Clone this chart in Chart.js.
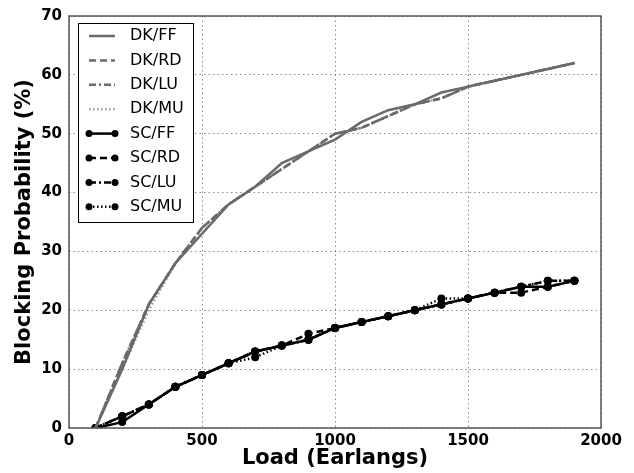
<!DOCTYPE html>
<html>
<head>
<meta charset="utf-8">
<script src="https://cdn.jsdelivr.net/npm/chart.js@4/dist/chart.umd.min.js"></script>
<style>
  html, body { margin: 0; padding: 0; background: #fff; }
  #wrap { width: 634px; height: 473px; }
</style>
</head>
<body>
<div id="wrap"><canvas id="chart" width="634" height="473"></canvas></div>
<script>
// Load points (Earlangs)
const loads = [100, 200, 300, 400, 500, 600, 700, 800, 900, 1000, 1100, 1200, 1300, 1400, 1500, 1600, 1700, 1800, 1900];

// Blocking probability (%)
const dkFF = [0, 10, 21, 28, 33, 38, 41, 45, 47, 49, 52, 54, 55, 57, 58, 59, 60, 61, 62];
const dkRD = [0, 11, 21, 28, 34, 38, 41, 44, 47, 50, 51, 53, 55, 56, 58, 59, 60, 61, 62];
const dkLU = [0, 11, 21, 28, 34, 38, 41, 44, 47, 50, 51, 53, 55, 56, 58, 59, 60, 61, 62];
const dkMU = [0, 10, 20, 28, 33, 38, 41, 44, 47, 50, 51, 53, 55, 56, 58, 59, 60, 61, 62];
const scFF = [0, 1, 4, 7, 9, 11, 13, 14, 15, 17, 18, 19, 20, 21, 22, 23, 24, 24, 25];
const scRD = [0, 2, 4, 7, 9, 11, 13, 14, 16, 17, 18, 19, 20, 21, 22, 23, 23, 24, 25];
const scLU = [0, 2, 4, 7, 9, 11, 13, 14, 15, 17, 18, 19, 20, 21, 22, 23, 24, 25, 25];
const scMU = [0, 2, 4, 7, 9, 11, 12, 14, 15, 17, 18, 19, 20, 22, 22, 23, 24, 25, 25];

const xTicks = [0, 500, 1000, 1500, 2000];
const yTicks = [0, 10, 20, 30, 40, 50, 60, 70];

const FONT = "'DejaVu Sans', sans-serif";
const GRAY = '#6a6a6a';

const pts = ys => ys.map((y, i) => ({ x: loads[i], y: y }));

function series(label, ys, color, dash, markers) {
    return {
        label: label,
        data: pts(ys),
        borderColor: color,
        backgroundColor: color,
        borderWidth: 2.5,
        borderDash: dash,
        pointRadius: markers ? 4 : 0,
        pointBorderWidth: 0,
        pointBackgroundColor: color,
        tension: 0,
        fill: false,
    };
}

// legend + frame, drawn like the matplotlib original
const framePlugin = {
    id: 'frame',
    afterDraw(chart) {
        const ctx = chart.ctx;
        const a = chart.chartArea;
        ctx.save();
        ctx.strokeStyle = '#555';
        ctx.lineWidth = 1.5;
        ctx.setLineDash([]);
        ctx.strokeRect(a.left, a.top, a.right - a.left, a.bottom - a.top);

        // legend box
        const bx = 78, by = 23, bw = 115, bh = 199;
        ctx.fillStyle = '#fff';
        ctx.fillRect(bx, by, bw, bh);
        ctx.strokeStyle = '#000';
        ctx.lineWidth = 1;
        ctx.strokeRect(bx + 0.5, by + 0.5, bw, bh);

        ctx.font = '16px ' + FONT;
        ctx.textBaseline = 'middle';
        chart.data.datasets.forEach((ds, i) => {
            const y = 36 + i * 24.4;
            const x0 = 89, x1 = 115;
            ctx.strokeStyle = ds.borderColor;
            ctx.lineWidth = ds.borderWidth;
            ctx.setLineDash(ds.borderDash || []);
            ctx.beginPath();
            ctx.moveTo(x0, y);
            ctx.lineTo(x1, y);
            ctx.stroke();
            ctx.setLineDash([]);
            if (ds.pointRadius > 0) {
                ctx.fillStyle = ds.pointBackgroundColor;
                [x0, x1].forEach(px => {
                    ctx.beginPath();
                    ctx.arc(px, y, 3.5, 0, Math.PI * 2);
                    ctx.fill();
                });
            }
            ctx.fillStyle = '#000';
            ctx.fillText(ds.label, 130, y);
        });
        ctx.restore();
    }
};

new Chart(document.getElementById('chart').getContext('2d'), {
    type: 'line',
    data: {
        datasets: [
            series('DK/FF', dkFF, GRAY, [], false),
            series('DK/RD', dkRD, GRAY, [7, 4], false),
            series('DK/LU', dkLU, GRAY, [7, 3, 2, 3], false),
            series('DK/MU', dkMU, '#9a9a9a', [1.5, 2.5], false),
            series('SC/FF', scFF, '#000', [], true),
            series('SC/RD', scRD, '#000', [7, 4], true),
            series('SC/LU', scLU, '#000', [7, 3, 2, 3], true),
            series('SC/MU', scMU, '#000', [1.5, 2.5], true),
        ],
    },
    options: {
        responsive: false,
        animation: false,
        layout: { padding: { top: 14, right: 33, left: 0, bottom: 0 } },
        plugins: {
            legend: { display: false },
            tooltip: { enabled: false },
        },
        scales: {
            x: {
                type: 'linear',
                min: 0,
                max: 2000,
                afterBuildTicks: s => { s.ticks = xTicks.map(v => ({ value: v })); },
                afterFit: s => { s.height = 45; },
                grid: { color: '#8a8a8a', lineWidth: 1, drawTicks: false },
                border: { display: false, dash: [1.5, 3] },
                ticks: {
                    color: '#000',
                    padding: 4,
                    callback: v => String(v),
                    font: { family: FONT, size: 15, weight: 'bold' },
                },
                title: {
                    display: true,
                    text: 'Load (Earlangs)',
                    color: '#000',
                    padding: { top: 0, bottom: 2 },
                    font: { family: FONT, size: 21, weight: 'bold' },
                },
            },
            y: {
                min: 0,
                max: 70,
                afterBuildTicks: s => { s.ticks = yTicks.map(v => ({ value: v })); },
                afterFit: s => { s.width = 69; },
                grid: { color: '#8a8a8a', lineWidth: 1, drawTicks: false },
                border: { display: false, dash: [1.5, 3] },
                ticks: {
                    color: '#000',
                    padding: 7,
                    callback: v => String(v),
                    font: { family: FONT, size: 15, weight: 'bold' },
                },
                title: {
                    display: true,
                    text: 'Blocking Probability (%)',
                    color: '#000',
                    padding: { top: 12, bottom: 0 },
                    font: { family: FONT, size: 21, weight: 'bold' },
                },
            },
        },
    },
    plugins: [framePlugin],
});
</script>
</body>
</html>
